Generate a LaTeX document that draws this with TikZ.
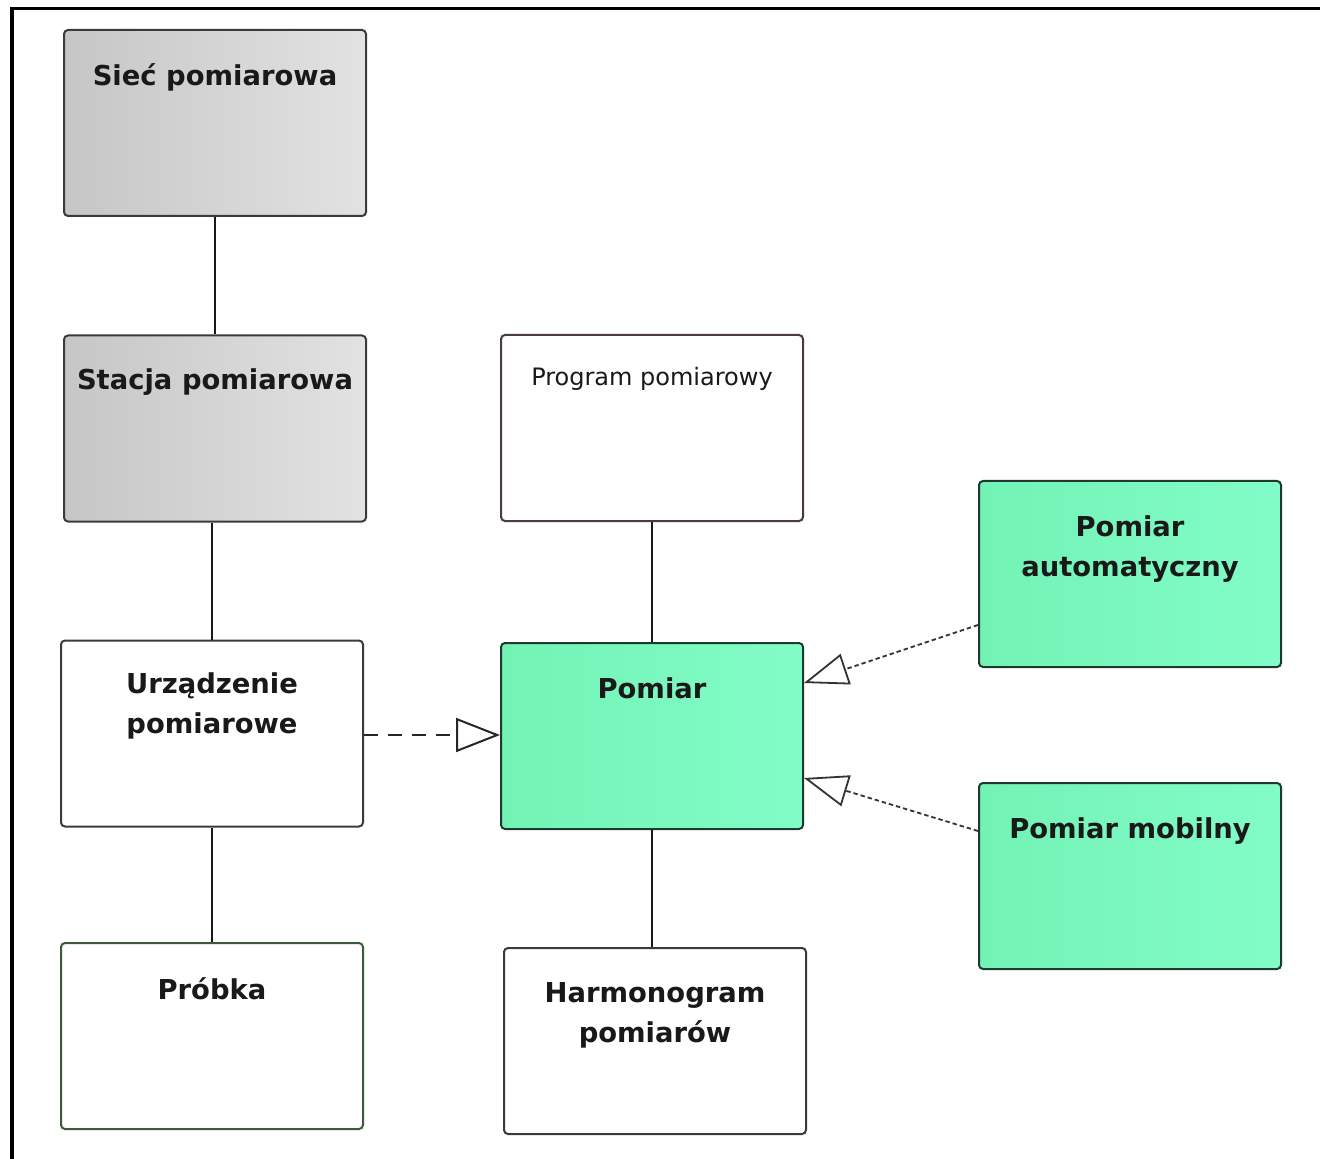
\documentclass[tikz,border=0pt]{standalone}
\usepackage{fontspec}
\setmainfont{DejaVu Sans}
\usetikzlibrary{arrows.meta,calc}
\definecolor{grayL}{HTML}{C6C6C6}
\definecolor{grayR}{HTML}{E2E2E2}
\definecolor{greenL}{HTML}{72F3B5}
\definecolor{greenR}{HTML}{82FCC8}
\definecolor{edgeDark}{HTML}{3A3A3A}
\definecolor{edgeGreen}{HTML}{1E3A2C}
\definecolor{edgeProbka}{HTML}{3C5A3C}
\definecolor{edgeProg}{HTML}{4A3C3C}
\begin{document}
\begin{tikzpicture}[x=0.5pt,y=-0.5pt,
  box/.style={draw=#1, rounded corners=2pt, line width=1pt,
    minimum width=151pt, minimum height=93pt, inner sep=0pt},
  graybox/.style={box=edgeDark, left color=grayL, right color=grayR},
  whitebox/.style={box=#1, fill=white},
  greenbox/.style={box=edgeGreen, left color=greenL, right color=greenR},
  lbl/.style={font=\fontsize{13.7}{20}\selectfont\bfseries, align=center,
    inner sep=0pt, anchor=north, text=black!90},
  lblsmall/.style={font=\fontsize{12}{16}\selectfont, align=center,
    inner sep=0pt, anchor=north, text=black!90},
  assoc/.style={line width=1pt, draw=black!90},
  gen/.style={line width=0.9pt, draw=black!80, dash pattern=on 2.2pt off 1.5pt,
    -{Triangle[open,length=22pt,width=16pt,fill=white]}},
  dep/.style={line width=1pt, draw=black!85, dash pattern=on 7pt off 5pt,
    -{Triangle[open,length=22pt,width=17pt,fill=white]}}
]
\useasboundingbox (0,0) rectangle (1320,1159);
% frame
\draw[line width=1.6pt, line cap=rect] (12,1159) -- (12,8.5) -- (1320,8.5);

% boxes
\node[graybox] (siec) at (215,123) {};
\node[graybox] (stacja) at (215,428.5) {};
\node[whitebox=edgeDark] (urz) at (212,733.5) {};
\node[whitebox=edgeProbka] (probka) at (212,1036) {};
\node[whitebox=edgeProg] (program) at (652,428) {};
\node[greenbox] (pomiar) at (652,736) {};
\node[whitebox=edgeDark] (harm) at (655,1041) {};
\node[greenbox] (auto) at (1130,574) {};
\node[greenbox] (mobil) at (1130,876) {};

% labels
\node[lbl] (siecT) at ($(siec.north)+(0,34)$) {Sieć pomiarowa};
\node[lbl] (stacjaT) at ($(stacja.north)+(0,34)$) {Stacja pomiarowa};
\node[lbl] (urzT) at ($(urz.north)+(0,33)$) {Urządzenie\\pomiarowe};
\node[lbl] (probkaT) at ($(probka.north)+(0,35)$) {Próbka};
\node[lblsmall] (programT) at ($(program.north)+(0,33)$) {Program pomiarowy};
\node[lbl] (pomiarT) at ($(pomiar.north)+(0,35)$) {Pomiar};
\node[lbl] (harmT) at ($(harm.north)+(0,35)$) {Harmonogram\\pomiarów};
\node[lbl] (autoT) at ($(auto.north)+(0,35)$) {Pomiar\\automatyczny};
\node[lbl] (mobilT) at ($(mobil.north)+(0,35)$) {Pomiar mobilny};

% associations
\draw[assoc] (siec.south) -- (stacja.north);
\draw[assoc] (urz.north |- stacja.south) -- (urz.north);
\draw[assoc] (urz.south) -- (urz.south |- probka.north);
\draw[assoc] (program.south) -- (pomiar.north);
\draw[assoc] (pomiar.south) -- (pomiar.south |- harm.north);

% dependency
\draw[dep] ($(urz.east)+(0,1.5)$) -- ($(pomiar.west)+(0,-1)$);

% generalizations
\draw[gen] ($(auto.west)+(0,51)$) -- ($(pomiar.east)+(0,-53)$);
\draw[gen] ($(mobil.west)+(0,-45)$) -- ($(pomiar.east)+(0,42)$);
\end{tikzpicture}
\end{document}
